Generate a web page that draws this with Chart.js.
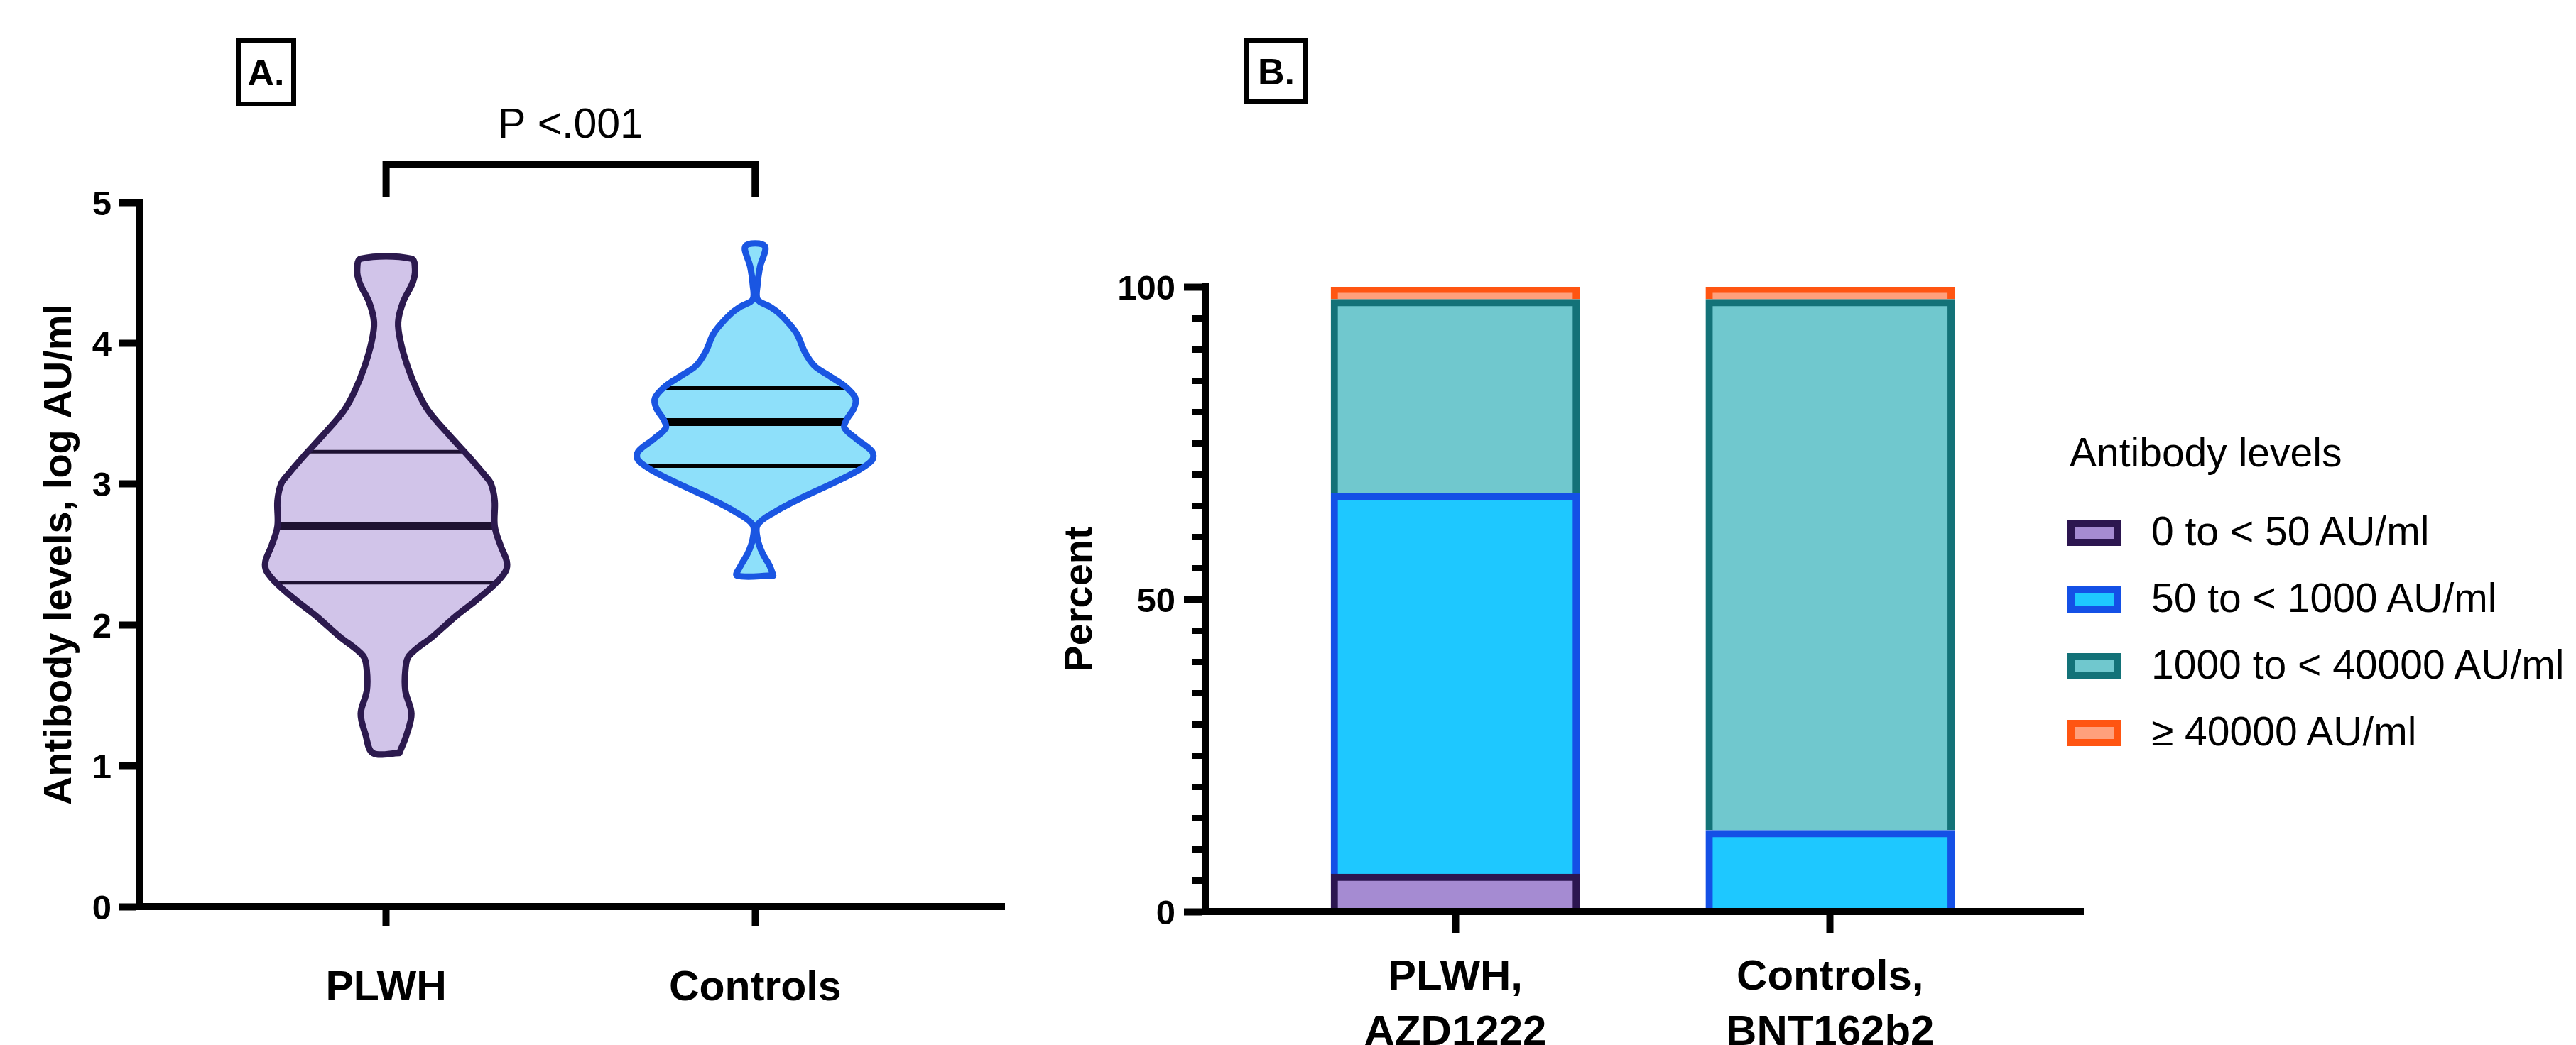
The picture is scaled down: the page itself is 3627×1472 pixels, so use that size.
<!DOCTYPE html>
<html>
<head>
<meta charset="utf-8">
<script src="https://cdn.jsdelivr.net/npm/chart.js@4.4.1/dist/chart.umd.min.js"></script>
<style>
  html, body { margin: 0; padding: 0; background: #fff; }
  body { width: 3627px; height: 1472px; position: relative; overflow: hidden;
         font-family: "Liberation Sans", Arial, sans-serif; color: #000; }
  canvas { position: absolute; top: 0; }
  #cA { left: 0; }
  #cB { left: 1450px; }
  .tag { position: absolute; box-sizing: border-box; border: 7px solid #000;
         font-weight: bold; font-size: 52px; line-height: 1;
         display: flex; align-items: center; justify-content: center; }
  .lg-title, .lg-text { position: absolute; font-size: 57px; line-height: 57px; white-space: nowrap; }
  .lg-box { position: absolute; box-sizing: border-box; width: 75px; height: 37px; border: 10px solid #000; }
</style>
</head>
<body>
<canvas id="cA" width="1450" height="1472"></canvas>
<canvas id="cB" width="1550" height="1472"></canvas>
<div class="tag" style="left:332px;top:54px;width:85px;height:96px;">A.</div>
<div class="tag" style="left:1752px;top:54px;width:90px;height:93px;">B.</div>
<div id="legend"></div>
<script>
// ---------- Panel A data (violin plot) ----------
const violinGroups = ['PLWH', 'Controls'];
const plwhLevels = [1.09, 1.22, 1.37, 1.53, 1.68, 1.78, 1.92, 2.07, 2.17, 2.28, 2.38, 2.45, 2.56, 2.70,
                    2.88, 3.00, 3.06, 3.20, 3.34, 3.52, 3.66, 3.83, 4.01, 4.15, 4.29, 4.43, 4.52, 4.60];
const plwhDensity = [0.11, 0.17, 0.21, 0.16, 0.16, 0.19, 0.39, 0.59, 0.74, 0.89, 0.99, 1.00, 0.95, 0.90,
                     0.90, 0.87, 0.82, 0.68, 0.53, 0.35, 0.26, 0.18, 0.12, 0.10, 0.14, 0.22, 0.24, 0.21];
const controlsLevels = [2.35, 2.42, 2.51, 2.61, 2.71, 2.80, 2.90, 3.00, 3.09, 3.17, 3.23, 3.32, 3.40, 3.46,
                        3.54, 3.61, 3.69, 3.77, 3.84, 3.94, 4.06, 4.13, 4.21, 4.26, 4.31, 4.42, 4.54, 4.69];
const controlsDensity = [0.15, 0.12, 0.06, 0.02, 0.02, 0.16, 0.38, 0.63, 0.84, 0.97, 0.97, 0.84, 0.74, 0.76,
                         0.82, 0.83, 0.75, 0.61, 0.49, 0.41, 0.35, 0.29, 0.20, 0.12, 0.02, 0.02, 0.04, 0.08];
const plwhQuartiles = [2.30, 2.70, 3.23];      // Q1, median, Q3
const controlsQuartiles = [3.13, 3.44, 3.68];  // Q1, median, Q3
const pValueLabel = 'P <.001';
const bracketX = [1, 1, 2, 2];
const bracketY = [5.035, 5.267, 5.267, 5.035];

// ---------- Panel B data (stacked percent bars) ----------
const barGroups = [['PLWH,', 'AZD1222'], ['Controls,', 'BNT162b2']];
const levelBands = ['0 to < 50 AU/ml', '50 to < 1000 AU/ml', '1000 to < 40000 AU/ml', '\u2265 40000 AU/ml'];
const plwhPercent = [6, 61, 31, 2];
const controlsPercent = [0, 13, 85, 2];
const legendTitle = 'Antibody levels';

// ---------- styles ----------
const FONT = '"Liberation Sans", Arial, sans-serif';
Chart.defaults.font.family = FONT;
Chart.defaults.color = '#000';
const VIOLIN_HALF = 0.327;
const violinStyle = [
  { fill: '#d1c4e9', stroke: '#2c1a4e', q: '#1e1232', qw: 5, mw: 11 },
  { fill: '#8ee0fa', stroke: '#1a56e2', q: '#000000', qw: 6, mw: 11 }
];
const bandFill = ['#a58bd2', '#1ec8ff', '#70c8ce', '#ffa07c'];
const bandBorder = ['#2c1650', '#1450e6', '#137278', '#ff5512'];

function violinOutline(center, levels, density) {
  const right = levels.map((y, i) => ({ x: center + density[i] * VIOLIN_HALF, y }));
  const left = levels.map((y, i) => ({ x: center - density[i] * VIOLIN_HALF, y })).reverse();
  return right.concat(left, [right[0]]);
}
function densityAt(level, levels, density) {
  for (let i = 0; i < levels.length - 1; i++) {
    if (level >= levels[i] && level <= levels[i + 1]) {
      const t = (level - levels[i]) / (levels[i + 1] - levels[i]);
      return density[i] + t * (density[i + 1] - density[i]);
    }
  }
  return 0;
}
function quartileSegment(center, q, levels, density) {
  const w = densityAt(q, levels, density) * VIOLIN_HALF;
  return [{ x: center - w, y: q }, { x: center + w, y: q }];
}

const violinSets = [
  { levels: plwhLevels, density: plwhDensity, quart: plwhQuartiles },
  { levels: controlsLevels, density: controlsDensity, quart: controlsQuartiles }
];
const dsA = [];
violinSets.forEach((v, g) => {
  dsA.push({
    label: violinGroups[g],
    data: violinOutline(g + 1, v.levels, v.density),
    borderColor: violinStyle[g].stroke, backgroundColor: violinStyle[g].fill,
    borderWidth: 9, fill: 'shape', tension: 0.35,
    borderJoinStyle: 'round', borderCapStyle: 'round', pointRadius: 0
  });
});
violinSets.forEach((v, g) => {
  v.quart.forEach((q, k) => {
    dsA.push({
      data: quartileSegment(g + 1, q, v.levels, v.density),
      borderColor: violinStyle[g].q, borderWidth: k === 1 ? violinStyle[g].mw : violinStyle[g].qw,
      fill: false, pointRadius: 0, tension: 0, borderCapStyle: 'butt'
    });
  });
});
dsA.push({
  data: bracketX.map((x, i) => ({ x, y: bracketY[i] })),
  borderColor: '#000', borderWidth: 10, fill: false, pointRadius: 0, tension: 0,
  borderJoinStyle: 'miter', borderCapStyle: 'butt', clip: false
});

const pTextPlugin = {
  id: 'pText',
  afterDatasetsDraw(chart) {
    const { ctx, scales: { x, y } } = chart;
    const cx = (x.getPixelForValue(bracketX[0]) + x.getPixelForValue(bracketX[bracketX.length - 1])) / 2;
    const top = y.getPixelForValue(Math.max(...bracketY));
    ctx.save();
    ctx.font = '59px ' + FONT;
    ctx.fillStyle = '#000';
    ctx.textAlign = 'center';
    ctx.textBaseline = 'alphabetic';
    ctx.fillText(pValueLabel, cx, top - 38);
    ctx.restore();
  }
};

new Chart(document.getElementById('cA'), {
  type: 'line',
  data: { datasets: dsA },
  options: {
    responsive: false, animation: false, devicePixelRatio: 1,
    layout: { padding: { left: 0, right: 36, top: 285, bottom: 0 } },
    plugins: { legend: { display: false }, tooltip: { enabled: false }, filler: { drawTime: 'beforeDatasetsDraw' } },
    scales: {
      x: {
        type: 'linear', min: 0.333, max: 2.675, offset: false,
        afterBuildTicks: s => { s.ticks = violinGroups.map((_, i) => ({ value: i + 1 })); },
        afterFit: s => { s.height = 195; },
        grid: { drawOnChartArea: false, tickLength: 28, tickWidth: 10, tickColor: '#000', color: '#000', offset: false },
        border: { display: true, color: '#000', width: 10, z: 1 },
        ticks: { color: '#000', font: { size: 59, weight: 'bold' }, padding: 52, maxRotation: 0, minRotation: 0,
                 autoSkip: false, callback: v => violinGroups[Math.round(v) - 1] }
      },
      y: {
        type: 'linear', min: 0, max: 5,
        afterFit: s => { s.width = 197; },
        ticks: { stepSize: 1, color: '#000', font: { size: 49, weight: 'bold' }, padding: 10, labelOffset: 4 },
        grid: { drawOnChartArea: false, tickLength: 30, tickWidth: 10, tickColor: '#000', color: '#000' },
        border: { color: '#000', width: 10, z: 1 },
        title: { display: true, text: 'Antibody levels, log AU/ml', color: '#000',
                 font: { size: 56, weight: 'bold' }, padding: { top: 51, bottom: 0 } }
      }
    }
  },
  plugins: [pTextPlugin]
});

const dsB = levelBands.map((label, i) => ({
  label,
  data: [plwhPercent[i], controlsPercent[i]].map((v, j) => ({ x: j + 1, y: v })),
  backgroundColor: bandFill[i], borderColor: bandBorder[i],
  borderWidth: 10, borderSkipped: 'start', barThickness: 350, stack: 'all'
}));

const chartB = new Chart(document.getElementById('cB'), {
  type: 'bar',
  data: { datasets: dsB },
  options: {
    responsive: false, animation: false, devicePixelRatio: 1,
    layout: { padding: { left: 0, right: 67, top: 404, bottom: 0 } },
    plugins: { legend: { display: false }, tooltip: { enabled: false } },
    scales: {
      x: {
        type: 'linear', min: 0.333, max: 2.675, offset: false, stacked: true,
        afterBuildTicks: s => { s.ticks = barGroups.map((_, i) => ({ value: i + 1 })); },
        afterFit: s => { s.height = 188; },
        grid: { drawOnChartArea: false, tickLength: 30, tickWidth: 10, tickColor: '#000', color: '#000', offset: false },
        border: { display: true, color: '#000', width: 10, z: 1 },
        ticks: { color: '#000', font: { size: 60, weight: 'bold', lineHeight: 1.3 }, padding: 24,
                 maxRotation: 0, minRotation: 0, autoSkip: false, callback: v => barGroups[Math.round(v) - 1] }
      },
      y: {
        type: 'linear', position: 'left', stacked: true, min: 0, max: 100, weight: 1,
        afterFit: s => { s.width = 247; },
        ticks: { stepSize: 50, color: '#000', font: { size: 49, weight: 'bold' }, padding: 12, labelOffset: 4 },
        grid: { drawOnChartArea: false, tickLength: 30, tickWidth: 10, tickColor: '#000', color: '#000' },
        border: { color: '#000', width: 10, z: 1 },
        title: { display: true, text: 'Percent', color: '#000', font: { size: 56, weight: 'bold' },
                 padding: { top: 38, bottom: 0 } }
      },
      y2: {
        type: 'linear', position: 'left', min: 0, max: 100, weight: 0,
        afterFit: s => { s.width = 0; },
        ticks: { stepSize: 5, display: false },
        grid: { drawOnChartArea: false, tickLength: 19, tickWidth: 9, tickColor: '#000', color: '#000' },
        border: { display: false }
      }
    }
  }
});

// HTML legend built from the bar chart's datasets
(function buildLegend() {
  const host = document.getElementById('legend');
  const t = document.createElement('div');
  t.className = 'lg-title';
  t.textContent = legendTitle;
  t.style.left = '2914px'; t.style.top = '609px';
  host.appendChild(t);
  chartB.data.datasets.forEach((ds, i) => {
    const b = document.createElement('div');
    b.className = 'lg-box';
    b.style.left = '2911px'; b.style.top = (732 + 94 * i) + 'px';
    b.style.background = ds.backgroundColor; b.style.borderColor = ds.borderColor;
    host.appendChild(b);
    const s = document.createElement('div');
    s.className = 'lg-text';
    s.textContent = ds.label;
    s.style.left = '3029px'; s.style.top = (720 + 94 * i) + 'px';
    host.appendChild(s);
  });
})();
</script>
</body>
</html>
